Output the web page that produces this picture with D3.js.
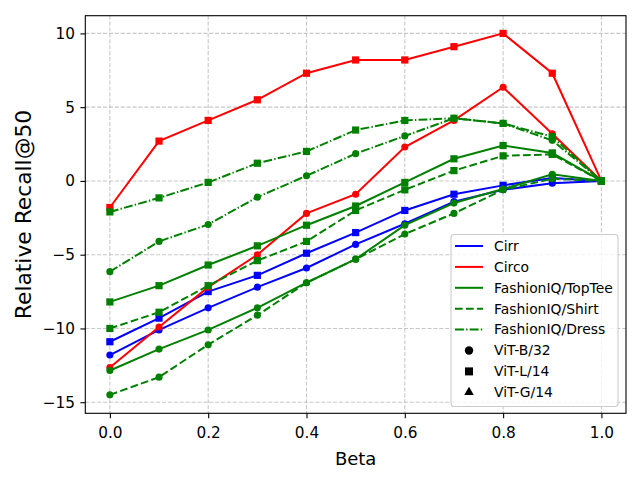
<!DOCTYPE html>
<html>
<head>
<meta charset="utf-8">
<script src="https://cdn.jsdelivr.net/npm/d3@7"></script>
<style>
  body { margin: 0; background: #fff; }
  svg { font-family: "DejaVu Sans", sans-serif; }
</style>
</head>
<body>
<div id="chart"></div>
<script>
// Data
const beta = [0, 0.1, 0.2, 0.3, 0.4, 0.5, 0.6, 0.7, 0.8, 0.9, 1.0];

const cirrB = [-11.8, -10.1, -8.6, -7.2, -5.9, -4.3, -2.9, -1.4, -0.6, -0.15, 0];
const cirrL = [-10.9, -9.3, -7.5, -6.4, -4.9, -3.5, -2.0, -0.9, -0.3, 0.2, 0];
const circoB = [-12.65, -9.9, -7.2, -5.0, -2.2, -0.9, 2.3, 4.1, 6.35, 3.2, 0];
const circoL = [-1.8, 2.7, 4.1, 5.5, 7.3, 8.2, 8.2, 9.1, 10.0, 7.3, 0];
const topteeB = [-12.85, -11.4, -10.1, -8.6, -6.9, -5.3, -3.0, -1.5, -0.55, 0.45, 0];
const topteeL = [-8.2, -7.1, -5.7, -4.4, -3.0, -1.7, -0.1, 1.5, 2.4, 1.9, 0];
const shirtB = [-14.5, -13.3, -11.1, -9.1, -6.9, -5.3, -3.6, -2.2, -0.6, 0.15, 0];
const shirtL = [-10.0, -8.9, -7.1, -5.4, -4.1, -2.0, -0.6, 0.7, 1.7, 1.8, 0];
const dressB = [-6.15, -4.1, -2.95, -1.1, 0.35, 1.85, 3.05, 4.25, 3.9, 2.75, 0];
const dressL = [-2.1, -1.15, -0.1, 1.2, 2.0, 3.45, 4.1, 4.25, 3.9, 3.0, 0];

const xTicks = [0, 0.2, 0.4, 0.6, 0.8, 1.0];
const yTicks = [-15, -10, -5, 0, 5, 10];

const datasets = ['Cirr', 'Circo', 'FashionIQ/TopTee', 'FashionIQ/Shirt', 'FashionIQ/Dress'];
const models = ['ViT-B/32', 'ViT-L/14', 'ViT-G/14'];

const series = [
  { dataset: 'Cirr', model: 'ViT-B/32', values: cirrB },
  { dataset: 'Cirr', model: 'ViT-L/14', values: cirrL },
  { dataset: 'Circo', model: 'ViT-B/32', values: circoB },
  { dataset: 'Circo', model: 'ViT-L/14', values: circoL },
  { dataset: 'FashionIQ/TopTee', model: 'ViT-B/32', values: topteeB },
  { dataset: 'FashionIQ/TopTee', model: 'ViT-L/14', values: topteeL },
  { dataset: 'FashionIQ/Shirt', model: 'ViT-B/32', values: shirtB },
  { dataset: 'FashionIQ/Shirt', model: 'ViT-L/14', values: shirtL },
  { dataset: 'FashionIQ/Dress', model: 'ViT-B/32', values: dressB },
  { dataset: 'FashionIQ/Dress', model: 'ViT-L/14', values: dressL }
];

const colorOf = { 'Cirr': 'blue', 'Circo': 'red', 'FashionIQ/TopTee': 'green', 'FashionIQ/Shirt': 'green', 'FashionIQ/Dress': 'green' };
const dashOf = { 'Cirr': null, 'Circo': null, 'FashionIQ/TopTee': null, 'FashionIQ/Shirt': '7.7,3.3', 'FashionIQ/Dress': '8.9,2.2,1.4,2.2' };
const symbolOf = { 'ViT-B/32': d3.symbolCircle, 'ViT-L/14': d3.symbolSquare, 'ViT-G/14': d3.symbolTriangle };

const width = 640, height = 480;
const margin = { left: 85.3, right: 14, top: 15.7, bottom: 66.7 };

const svg = d3.select('#chart').append('svg')
  .attr('width', width)
  .attr('height', height);

const x = d3.scaleLinear().domain([-0.05, 1.05]).range([margin.left, width - margin.right]);
const y = d3.scaleLinear().domain([-15.75, 11.2]).range([height - margin.bottom, margin.top]);

// Grid
const grid = svg.append('g');
grid.selectAll('.gx').data(xTicks).enter().append('line')
  .attr('x1', d => x(d)).attr('x2', d => x(d))
  .attr('y1', margin.top).attr('y2', height - margin.bottom)
  .attr('stroke', '#b0b0b0').attr('stroke-opacity', 0.7)
  .attr('stroke-width', 1.1).attr('stroke-dasharray', '4.1,1.8');
grid.selectAll('.gy').data(yTicks).enter().append('line')
  .attr('x1', margin.left).attr('x2', width - margin.right)
  .attr('y1', d => y(d)).attr('y2', d => y(d))
  .attr('stroke', '#b0b0b0').attr('stroke-opacity', 0.7)
  .attr('stroke-width', 1.1).attr('stroke-dasharray', '4.1,1.8');

// Lines and markers
const line = d3.line().x((d, i) => x(beta[i])).y(d => y(d));
const plot = svg.append('g');
series.forEach(s => {
  const g = plot.append('g');
  g.append('path')
    .attr('d', line(s.values))
    .attr('fill', 'none')
    .attr('stroke', colorOf[s.dataset])
    .attr('stroke-width', 2)
    .attr('stroke-dasharray', dashOf[s.dataset]);
  const size = s.model === 'ViT-L/14' ? 52 : 40;
  g.selectAll('path.m').data(s.values).enter().append('path')
    .attr('class', 'm')
    .attr('d', d3.symbol().type(symbolOf[s.model]).size(size))
    .attr('transform', (d, i) => `translate(${x(beta[i])},${y(d)})`)
    .attr('fill', colorOf[s.dataset]);
});

// Axes
const xAxis = svg.append('g')
  .attr('transform', `translate(0,${height - margin.bottom})`)
  .call(d3.axisBottom(x).tickValues(xTicks).tickFormat(d3.format('.1f')).tickSize(4.9).tickPadding(8.5));
const yAxis = svg.append('g')
  .attr('transform', `translate(${margin.left},0)`)
  .call(d3.axisLeft(y).tickValues(yTicks).tickFormat(d => d < 0 ? '\u2212' + Math.abs(d) : d).tickSize(4.9).tickPadding(5.4));
[xAxis, yAxis].forEach(a => {
  a.select('.domain').remove();
  a.selectAll('.tick line').attr('stroke', '#000').attr('stroke-width', 1.1);
  a.selectAll('.tick text').attr('font-size', '15.3px').attr('fill', '#000')
    .attr('font-family', '"DejaVu Sans", sans-serif');
});

// Frame
svg.append('rect')
  .attr('x', margin.left).attr('y', margin.top)
  .attr('width', width - margin.left - margin.right)
  .attr('height', height - margin.top - margin.bottom)
  .attr('fill', 'none').attr('stroke', '#000').attr('stroke-width', 1.1);

// Axis labels
svg.append('text')
  .attr('x', (margin.left + width - margin.right) / 2)
  .attr('y', 465)
  .attr('text-anchor', 'middle')
  .attr('font-size', '18px')
  .text('Beta');
svg.append('text')
  .attr('transform', `translate(30.5,${(margin.top + height - margin.bottom) / 2}) rotate(-90)`)
  .attr('text-anchor', 'middle')
  .attr('font-size', '21.8px')
  .text('Relative Recall@50');

// Legend
const legend = svg.append('g');
legend.append('rect')
  .attr('x', 451).attr('y', 234.5).attr('width', 167).attr('height', 172)
  .attr('rx', 3)
  .attr('fill', 'white').attr('fill-opacity', 0.8)
  .attr('stroke', '#cccccc').attr('stroke-width', 1.1);

const legendItems = datasets.map(d => ({ label: d, kind: 'line', key: d }))
  .concat(models.map(m => ({ label: m, kind: 'marker', key: m })));
const rowY = i => 246 + i * 20.9;
const legendMarkerSize = { 'ViT-B/32': 56, 'ViT-L/14': 64, 'ViT-G/14': 40 };

legendItems.forEach((it, i) => {
  const cy = rowY(i);
  if (it.kind === 'line') {
    legend.append('line')
      .attr('x1', 455).attr('x2', 483).attr('y1', cy).attr('y2', cy)
      .attr('stroke', colorOf[it.key]).attr('stroke-width', 2)
      .attr('stroke-dasharray', dashOf[it.key]);
  } else {
    legend.append('path')
      .attr('d', d3.symbol().type(symbolOf[it.key]).size(legendMarkerSize[it.key]))
      .attr('transform', `translate(469,${cy})`)
      .attr('fill', '#000');
  }
  legend.append('text')
    .attr('x', 494).attr('y', cy).attr('dy', '0.35em')
    .attr('font-size', '13.9px')
    .text(it.label);
});
</script>
</body>
</html>
